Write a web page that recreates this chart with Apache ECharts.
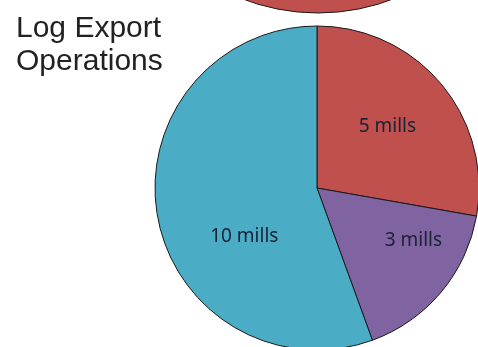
<!DOCTYPE html>
<html>
<head>
<meta charset="utf-8">
<script src="https://cdn.jsdelivr.net/npm/echarts@6/dist/echarts.min.js"></script>
<style>
html,body{margin:0;padding:0;background:#fff;}
#c{width:478px;height:347px;}
</style>
</head>
<body>
<div id="c"></div>
<script>
const titleText = 'Log Export\nOperations';
const categories = ['5 mills', '3 mills', '10 mills'];
const values = [5, 3, 10];
const colors = ['#C0504D', '#8064A2', '#4BACC6'];
const topCategories = ['top'];
const topValues = [1];

const labelOffsets = [[6, -7], [32, -1], [10, 34]];

const chart = echarts.init(document.getElementById('c'), null, {renderer: 'canvas'});
chart.setOption({
  animation: false,
  backgroundColor: '#ffffff',
  title: {
    text: titleText,
    left: 16,
    top: 12,
    padding: 0,
    textStyle: {
      fontFamily: 'Liberation Sans',
      fontSize: 30,
      lineHeight: 33,
      fontWeight: 'normal',
      color: '#222222'
    }
  },
  series: [
    {
      type: 'pie',
      center: [318, -197],
      radius: 210,
      startAngle: 90,
      silent: true,
      label: {show: false},
      labelLine: {show: false},
      itemStyle: {borderColor: '#1a1a1a', borderWidth: 1, color: '#C0504D'},
      data: topCategories.map((n, i) => ({name: n, value: topValues[i]}))
    },
    {
      type: 'pie',
      center: [317, 188],
      radius: 162,
      startAngle: 90,
      clockwise: true,
      silent: true,
      avoidLabelOverlap: false,
      itemStyle: {borderColor: '#1a1a1a', borderWidth: 1},
      label: {
        show: true,
        position: 'inside',
        formatter: '{b}',
        fontFamily: 'Noto Sans',
        fontSize: 19,
        color: '#1a2233'
      },
      labelLine: {show: false},
      data: categories.map((n, i) => ({
        name: n,
        value: values[i],
        itemStyle: {color: colors[i]},
        label: {offset: labelOffsets[i]}
      }))
    }
  ]
});
</script>
</body>
</html>
